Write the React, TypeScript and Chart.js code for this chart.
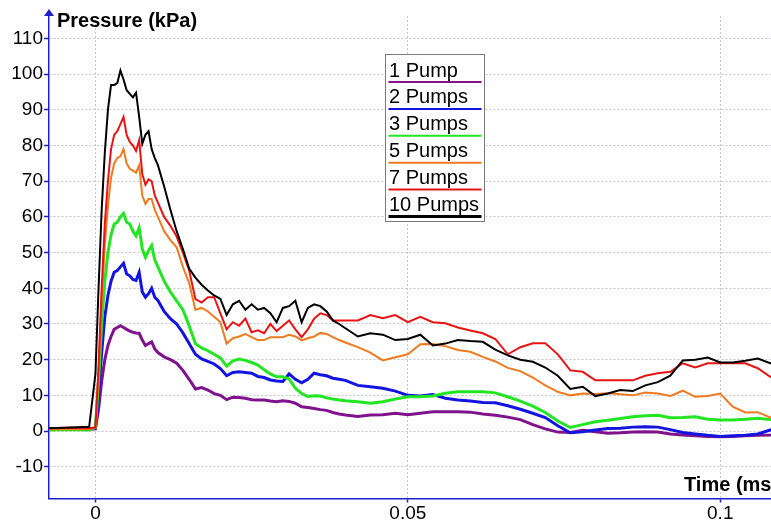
import React, { useEffect, useRef } from 'react';
import { Chart, registerables } from 'chart.js';

Chart.register(...registerables);

// Time axis (ms)
const TIMES = [
  -0.0075, -0.004, -0.001,
  0, 0.0005, 0.001, 0.0015, 0.002, 0.0025, 0.003, 0.0035, 0.004, 0.0045, 0.005,
  0.0055, 0.006, 0.0065, 0.007, 0.0075, 0.008, 0.0085, 0.009, 0.0095, 0.01,
  0.011, 0.012, 0.013, 0.014, 0.015, 0.016, 0.017, 0.018, 0.019, 0.02,
  0.021, 0.022, 0.023, 0.024, 0.025, 0.026, 0.027, 0.028, 0.029, 0.03,
  0.031, 0.032, 0.033, 0.034, 0.035, 0.036, 0.037, 0.038, 0.039, 0.04,
  0.042, 0.044, 0.046, 0.048, 0.05, 0.052, 0.054, 0.056, 0.058, 0.06,
  0.062, 0.064, 0.066, 0.068, 0.07, 0.072, 0.074, 0.076, 0.078, 0.08,
  0.082, 0.084, 0.086, 0.088, 0.09, 0.092, 0.094, 0.096, 0.098, 0.1,
  0.102, 0.104, 0.106, 0.108, 0.109,
];

// Pressure (kPa) per pump count
const PUMP_1 = [
  0.5, 0.6, 0.5,
  0.6, 6, 14, 20, 24, 26.5, 28.5, 29, 29.5, 29, 28.5, 28, 27.7, 27.5, 27.4, 25.5, 24, 24.5, 25, 23, 22,
  20.8, 20, 19, 17, 14.5, 11.8, 12.2, 11.5, 10.5, 10, 8.8, 9.5, 9.4, 9.2, 8.8, 8.7, 8.7, 8.4, 8.2, 8.5,
  8.3, 7.8, 6.8, 6.6, 6.3, 6, 5.8, 5.2, 4.8, 4.5,
  4.1, 4.5, 4.6, 5, 4.6, 5, 5.4, 5.4, 5.4, 5.3, 4.8, 4.4, 3.9, 3.2, 1.8, 0.6, -0.3, -0.4, 0.2, -0.2,
  -0.6, -0.5, -0.3, -0.2, -0.3, -0.8, -1.1, -1.3, -1.5, -1.6, -1.5, -1.3, -1.2, -1.1, -1,
];
const PUMPS_2 = [
  0.5, 0.6, 0.5,
  0.8, 10, 22, 32, 38, 42, 44.5, 45, 46, 47, 44, 43.5, 42.5, 42.2, 44.5, 39, 37.5, 38.5, 40, 37.5, 36.6,
  33.5, 31.5, 30, 27.5, 24.5, 21.5, 20.2, 19.5, 18.8, 17.5, 15.5, 16.4, 16.6, 16.4, 16.2, 15.3, 15, 14.3, 14, 13.9,
  16, 14.5, 13.5, 14.5, 16.2, 15.8, 15.5, 14.8, 14.5, 14.2,
  12.8, 12.4, 12, 11.2, 10, 9.8, 10.2, 9.2, 8.7, 8.4, 8, 7.9, 7.1, 6.1, 5, 3.8, 1.5, -0.5, -0.2, 0.3,
  0.7, 0.8, 1.1, 1.2, 1.1, 0.4, -0.4, -0.8, -1.2, -1.5, -1.3, -1.2, -0.8, 0.3, 0.6,
];
const PUMPS_3 = [
  0.3, 0.4, 0.3,
  1, 14, 30, 42, 50, 55, 58, 58.5, 60, 61, 58.5, 58, 56, 54.7, 57, 51, 48.7, 50.5, 52, 48, 46,
  42, 39, 36.5, 34, 29.5, 24.5, 23.3, 22.5, 21.5, 20.5, 18.2, 19.7, 20.2, 19.8, 19.2, 18.5, 17.2, 16, 15.2, 15.2,
  14.6, 12, 10.5, 9.7, 9.9, 9.8, 9.3, 9, 8.7, 8.5,
  8.2, 7.8, 8.2, 9, 9.6, 9.6, 9.8, 10.6, 11, 11, 11, 10.7, 9.6, 8.4, 7, 5.2, 2.8, 1, 1.8, 2.6,
  3, 3.5, 4, 4.3, 4.4, 3.7, 3.8, 4, 3.3, 3.1, 3.1, 3.3, 3.6, 3.2, 3.1,
];
const PUMPS_5 = [
  0.5, 0.6, 0.5,
  1, 16, 36, 52, 63, 71, 75, 76.5, 77, 79, 75, 73.5, 73, 72.4, 74.5, 66, 63.7, 65, 65, 62, 60,
  56, 53.5, 51.5, 46, 41.5, 34, 34.5, 33.5, 32, 30.5, 24.5, 26, 26.5, 27.2, 26.3, 25.5, 25.5, 26.3, 26.3, 26.3,
  27, 26.5, 25.4, 26, 26.5, 27.5, 27.2, 26.3, 25.5, 24.8,
  23.5, 22, 19.8, 20.7, 21.5, 24.3, 24.4, 23.8, 22.7, 22.2, 20.8, 19.5, 17.7, 16.8, 15, 12.8, 11, 10, 10.5, 10.4,
  10.6, 10.3, 10, 10.8, 10.5, 9.8, 11.3, 9.6, 9.8, 10.5, 6.8, 5.2, 5.3, 3.8, 3.6,
];
const PUMPS_7 = [
  0.8, 0.9, 0.8,
  1, 18, 40, 58, 70, 79, 83, 84, 86, 88, 83, 81, 80, 78.5, 81.5, 72, 69, 70.5, 70, 66, 64,
  60, 57.5, 54.5, 50, 45, 37, 36, 37.5, 37.5, 33, 28.5, 30.5, 29.5, 31.5, 27.7, 28.2, 27.4, 30, 28, 29.5,
  31, 28.5, 26.3, 28.5, 31.5, 33, 32.5, 31, 31, 31,
  31, 32.5, 31.6, 32.5, 30.5, 32, 30.5, 30.2, 29, 28.2, 27.4, 25.8, 21.5, 23.5, 24.6, 24.6, 21.5, 17, 16.6, 14.2,
  14.2, 14.2, 14.2, 15.5, 16.2, 16.6, 19, 17.8, 19, 19, 19, 19, 17.6, 15.2, 14.8,
];
const PUMPS_10 = [
  0.8, 1.0, 1.2,
  16, 40, 62, 78, 90, 97, 97, 97.5, 101, 98.5, 95.5, 94.5, 93.5, 94.8, 88, 80.5, 83, 84, 79, 76.5, 74.5,
  68.5, 62, 56, 51, 45.5, 43, 41, 39.4, 38, 37, 32.5, 35.5, 36.5, 34, 35.5, 34, 34.5, 33, 30.5, 34.5,
  35, 36.5, 30.5, 34.5, 35.5, 35, 33.5, 31, 30, 28.8,
  26.5, 27.4, 27, 25.5, 25.8, 27, 24, 24.5, 25.5, 25.2, 25, 22.8, 21.2, 20, 19.4, 17.8, 15.5, 11.8, 12.4, 9.8,
  10.5, 11.5, 11.2, 12.8, 13.7, 15.5, 19.8, 20, 20.6, 19.2, 19.2, 19.7, 20.3, 19, 18.8,
];

const SERIES = [PUMP_1, PUMPS_2, PUMPS_3, PUMPS_5, PUMPS_7, PUMPS_10];
const SERIES_LABELS = ['1 Pump', '2 Pumps', '3 Pumps', '5 Pumps', '7 Pumps', '10 Pumps'];
const SERIES_COLORS = ['#80128c', '#1414e0', '#22e622', '#f07a1e', '#e81414', '#000000'];
const SERIES_WIDTHS = [3, 3, 3, 2, 2, 2];
const SERIES_ORDER = [5, 4, 3, 2, 1, 0];

const Y_TICKS = [-10, 0, 10, 20, 30, 40, 50, 60, 70, 80, 90, 100, 110];
const X_TICKS = [0, 0.05, 0.1];
const X_TICK_LABELS = ['0', '0.05', '0.1'];

const Y_TITLE = 'Pressure (kPa)';
const X_TITLE = 'Time (ms)';

const FONT = '"Liberation Sans", Arial, sans-serif';
const AXIS_BLUE = '#1e1ecc';
const GRID_GRAY = '#c4c4cc';

const decorPlugin = {
  id: 'decor',
  afterDraw(chart: any) {
    const { ctx, chartArea } = chart;
    const left = chartArea.left;
    const top = chartArea.top;
    ctx.save();
    // arrow at top of y axis
    ctx.fillStyle = AXIS_BLUE;
    ctx.beginPath();
    ctx.moveTo(left, top - 7);
    ctx.lineTo(left - 5, top);
    ctx.lineTo(left + 5, top);
    ctx.closePath();
    ctx.fill();

    // axis titles
    ctx.fillStyle = '#000';
    ctx.font = `bold 20px ${FONT}`;
    ctx.textAlign = 'left';
    ctx.textBaseline = 'alphabetic';
    ctx.fillText(Y_TITLE, left + 8, top + 11);
    ctx.fillText(X_TITLE, chartArea.right - 87, chartArea.bottom - 8);

    // legend box
    const bx = 385.5, by = 54.5, bw = 99, bh = 167;
    ctx.fillStyle = '#fff';
    ctx.fillRect(bx, by, bw, bh);
    ctx.strokeStyle = '#7a7a7a';
    ctx.lineWidth = 1;
    ctx.strokeRect(bx, by, bw, bh);
    ctx.font = `20px ${FONT}`;
    for (let i = 0; i < SERIES_LABELS.length; i++) {
      const base = by + 22 + i * 26.9;
      ctx.fillStyle = '#000';
      ctx.fillText(SERIES_LABELS[i], bx + 3.5, base);
      ctx.strokeStyle = SERIES_COLORS[i];
      ctx.lineWidth = i === SERIES_LABELS.length - 1 ? 3 : 2;
      ctx.beginPath();
      ctx.moveTo(bx + 3, base + 5.5);
      ctx.lineTo(bx + bw - 3, base + 5.5);
      ctx.stroke();
    }
    ctx.restore();
  },
};

export default function App() {
  const canvasRef = useRef<HTMLCanvasElement | null>(null);

  useEffect(() => {
    const canvas = canvasRef.current;
    if (!canvas) return;
    const chart = new Chart(canvas, {
      type: 'line',
      data: {
        datasets: SERIES.map((vals, i) => ({
          label: SERIES_LABELS[i],
          data: TIMES.map((t, j) => ({ x: t, y: vals[j] })),
          borderColor: SERIES_COLORS[i],
          backgroundColor: SERIES_COLORS[i],
          borderWidth: SERIES_WIDTHS[i],
          pointRadius: 0,
          tension: 0,
          fill: false,
          order: SERIES_ORDER[i],
        })),
      },
      options: {
        responsive: false,
        animation: false,
        events: [],
        layout: { padding: { top: 16, left: 0, right: 0, bottom: 0 } },
        plugins: {
          legend: { display: false },
          tooltip: { enabled: false },
          title: { display: false },
        },
        scales: {
          x: {
            type: 'linear',
            min: -0.00743,
            max: 0.10812,
            afterFit: (s: any) => { s.height = 21.5; },
            afterBuildTicks: (s: any) => { s.ticks = X_TICKS.map((v) => ({ value: v })); },
            ticks: {
              autoSkip: false,
              maxRotation: 0,
              padding: 0,
              color: '#000',
              font: { family: FONT, size: 19 },
              callback: (v: any) => {
                const k = X_TICKS.indexOf(Number(v));
                return k >= 0 ? X_TICK_LABELS[k] : '';
              },
            },
            grid: { color: GRID_GRAY, lineWidth: 1, tickColor: AXIS_BLUE, tickLength: 4, tickWidth: 1.5 },
            border: { color: AXIS_BLUE, width: 1.5, dash: [2, 2] },
          },
          y: {
            type: 'linear',
            min: -18.9,
            max: 116.3,
            afterFit: (s: any) => { s.width = 49; },
            afterBuildTicks: (s: any) => { s.ticks = Y_TICKS.map((v) => ({ value: v })); },
            ticks: {
              autoSkip: false,
              padding: 1,
              color: '#000',
              font: { family: FONT, size: 19 },
              callback: (v: any) => String(v),
            },
            grid: { color: GRID_GRAY, lineWidth: 1, tickColor: AXIS_BLUE, tickLength: 5, tickWidth: 1.5 },
            border: { color: AXIS_BLUE, width: 1.5, dash: [2, 2] },
          },
        },
      },
      plugins: [decorPlugin],
    } as any);
    return () => chart.destroy();
  }, []);

  return (
    <div style={{ position: 'absolute', left: 0, top: 0, width: 771, height: 520, background: '#fff', overflow: 'hidden' }}>
      <canvas ref={canvasRef} width={771} height={520} style={{ display: 'block' }} />
    </div>
  );
}
